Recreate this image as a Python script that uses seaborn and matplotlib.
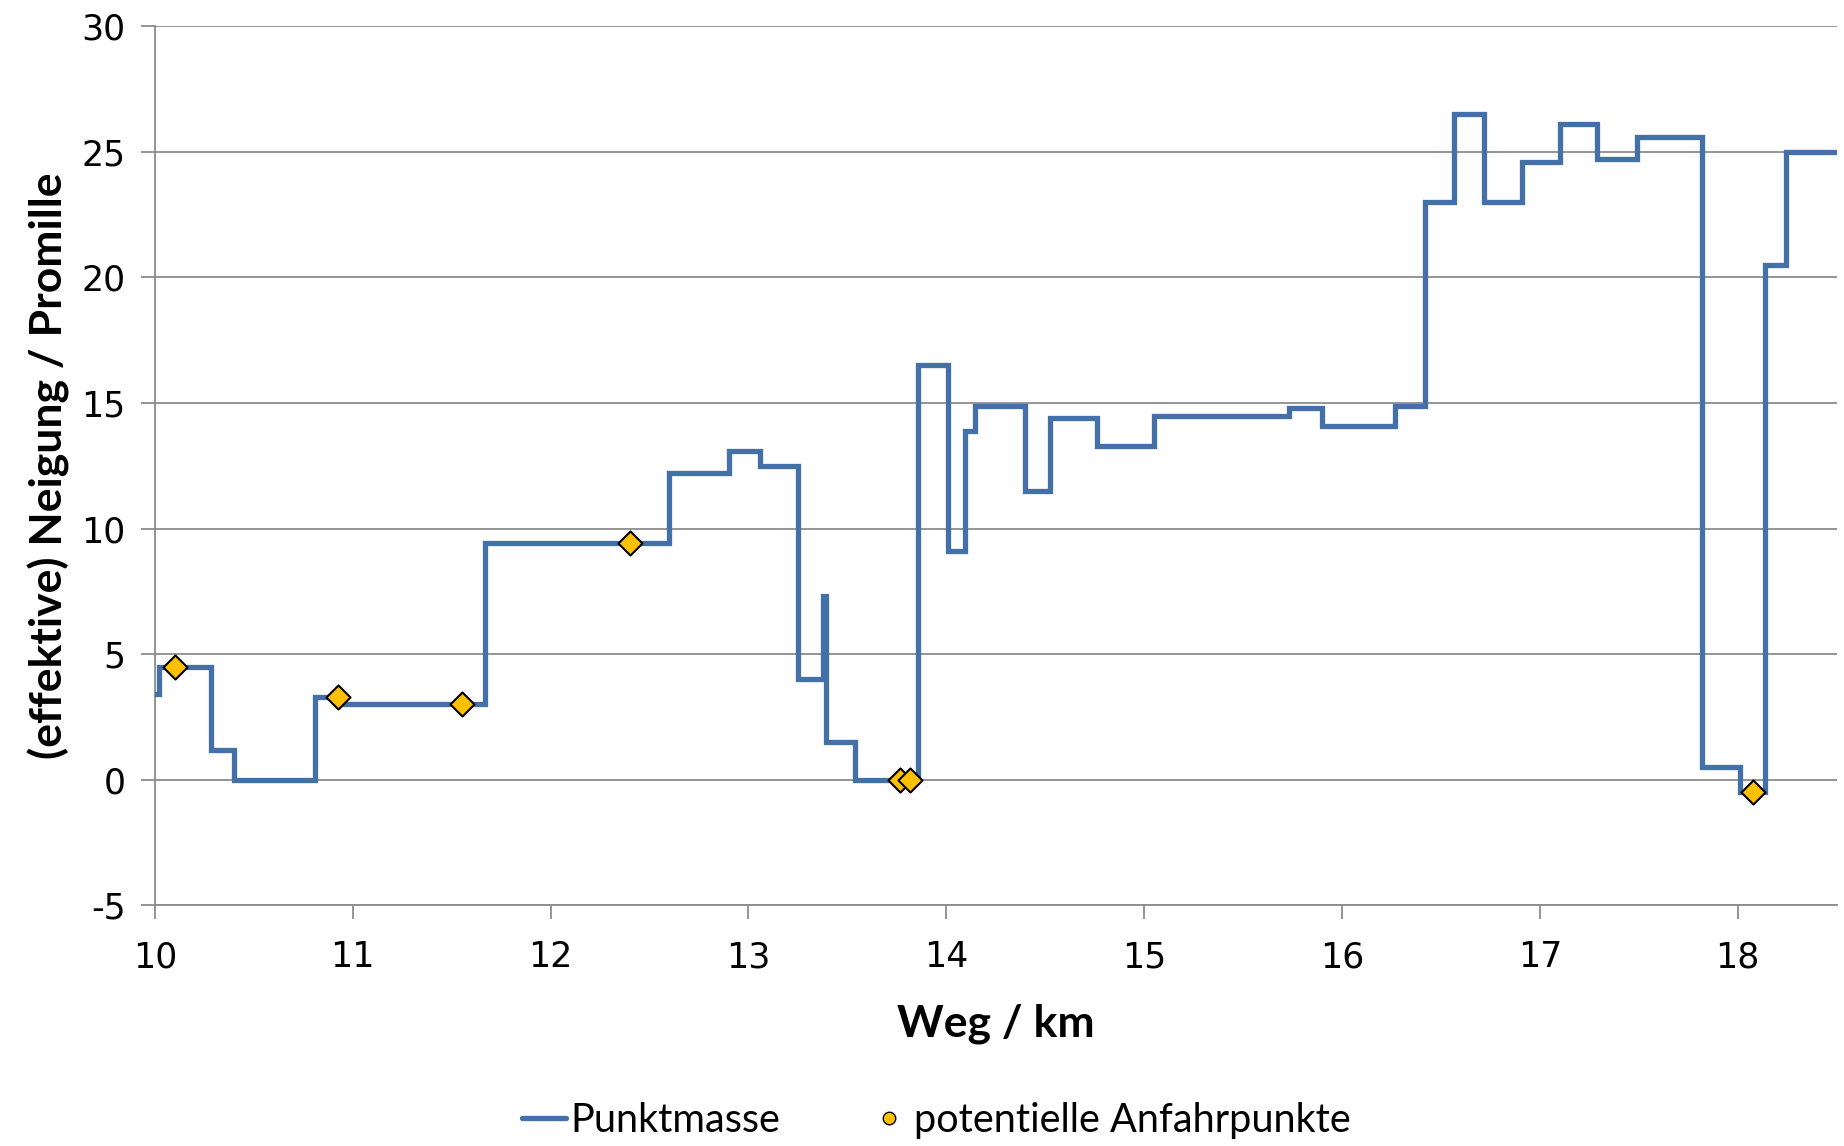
import matplotlib
matplotlib.use("Agg")
import matplotlib.pyplot as plt
from matplotlib.lines import Line2D
import seaborn as sns
import pandas as pd

# step profile: start of each section (km) and its gradient (permille)
weg_km = [10.00, 10.02, 10.285, 10.40, 10.81, 10.93, 11.666, 12.60, 12.90, 13.056,
          13.25, 13.375, 13.39, 13.54, 13.855, 14.007, 14.095, 14.146, 14.396, 14.526,
          14.762, 15.05, 15.734, 15.90, 16.27, 16.42, 16.568, 16.72, 16.908, 17.10,
          17.287, 17.491, 17.82, 18.013, 18.137, 18.246, 18.50]
neigung = [3.4, 4.5, 1.2, 0.0, 3.3, 3.0, 9.42, 12.2, 13.1, 12.5,
           4.0, 7.3, 1.5, 0.0, 16.5, 9.1, 13.9, 14.9, 11.5, 14.4,
           13.3, 14.5, 14.8, 14.1, 14.9, 23.0, 26.5, 23.0, 24.6, 26.1,
           24.7, 25.6, 0.5, -0.5, 20.5, 25.0, 25.0]

# potential start points
anfahr_km = [10.10, 10.925, 11.55, 12.40, 13.765, 13.815, 18.075]
anfahr_neigung = [4.5, 3.3, 3.0, 9.42, 0.0, 0.0, -0.5]

x_ticks = [10, 11, 12, 13, 14, 15, 16, 17, 18]
y_ticks = [-5, 0, 5, 10, 15, 20, 25, 30]

blau = "#4470A8"
gelb = "#FFC000"
grau = "#8C8C8C"

sns.set_style("white")
plt.rcParams["font.family"] = ["Lato", "DejaVu Sans"]
plt.rcParams["axes.unicode_minus"] = False
plt.rcParams["text.color"] = "black"
plt.rcParams["axes.labelcolor"] = "black"
plt.rcParams["xtick.color"] = "black"
plt.rcParams["ytick.color"] = "black"

df = pd.DataFrame({"Weg": weg_km, "Neigung": neigung})
df_p = pd.DataFrame({"Weg": anfahr_km, "Neigung": anfahr_neigung})

fig = plt.figure(figsize=(18.44, 11.46), dpi=100)
ax = fig.add_axes([0.084, 0.21, 0.912, 0.767])

sns.lineplot(data=df, x="Weg", y="Neigung", ax=ax, color=blau, lw=3.8,
             drawstyle="steps-post", solid_joinstyle="miter", zorder=3)
sns.scatterplot(data=df_p, x="Weg", y="Neigung", ax=ax, marker="D", s=150,
                color=gelb, edgecolor="black", linewidth=1.5, zorder=4)

ax.set_xlim(10, 18.5)
ax.set_ylim(-5, 30)
ax.set_xticks(x_ticks)
ax.set_yticks(y_ticks)
ax.yaxis.grid(True, color=grau, lw=1.3)
ax.xaxis.grid(False)
for s in ["top", "right"]:
    ax.spines[s].set_visible(False)
for s in ["left", "bottom"]:
    ax.spines[s].set_color(grau)
    ax.spines[s].set_linewidth(1.3)
ax.tick_params(axis="both", which="major", length=10, width=1.3, color=grau,
               labelcolor="black", direction="out", bottom=True, left=True)
ax.tick_params(axis="x", pad=15)
ax.tick_params(axis="y", pad=11)
for lab in ax.get_xticklabels() + ax.get_yticklabels():
    lab.set_fontfamily("DejaVu Sans")
    lab.set_fontsize(25)

ax.set_xlabel("Weg / km", fontsize=32, fontweight="bold", labelpad=21)
ax.set_ylabel("(effektive) Neigung / Promille", fontsize=32, fontweight="bold", labelpad=8)

handles = [
    Line2D([], [], color=blau, lw=3.8),
    Line2D([], [], color=gelb, marker="o", ls="none", markersize=9,
           markeredgecolor="black", markeredgewidth=1),
]
fig.legend(handles, ["Punktmasse", "potentielle Anfahrpunkte"], loc="lower center",
           bbox_to_anchor=(0.508, -0.025), ncol=2, frameon=False, fontsize=28.5,
           handlelength=1.1, handletextpad=0.1, columnspacing=2.2)

fig.savefig("out.png", dpi=100)
